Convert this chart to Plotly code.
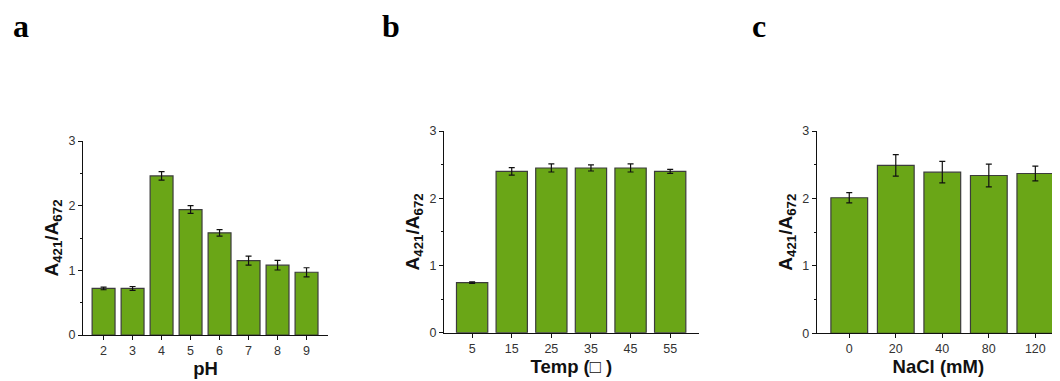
import plotly.graph_objects as go

# Panel a: pH
ph_labels = ["2", "3", "4", "5", "6", "7", "8", "9"]
ph_values = [0.72, 0.72, 2.46, 1.94, 1.58, 1.15, 1.08, 0.97]
ph_errors = [0.02, 0.03, 0.065, 0.06, 0.05, 0.07, 0.075, 0.07]

# Panel b: Temperature
temp_labels = ["5", "15", "25", "35", "45", "55"]
temp_values = [0.745, 2.40, 2.45, 2.45, 2.45, 2.40]
temp_errors = [0.012, 0.055, 0.06, 0.045, 0.06, 0.03]

# Panel c: NaCl
nacl_labels = ["0", "20", "40", "80", "120"]
nacl_values = [2.01, 2.49, 2.39, 2.34, 2.37]
nacl_errors = [0.075, 0.16, 0.16, 0.17, 0.11]

y_ticks = [0, 1, 2, 3]
BAR = "#6aa617"
EDGE = "#3c3c3c"

# page body has an 8px margin; figure is sized to fill the rest of the window
OFF = 8
W = 1060 - OFF
H = 381 - OFF

panels = [
    dict(labels=ph_labels, vals=ph_values, errs=ph_errors, title="pH",
         px=(83, 328), py=(141, 335), xr=(-0.71, 7.74)),
    dict(labels=temp_labels, vals=temp_values, errs=temp_errors, title="Temp (□ )",
         px=(444, 698.7), py=(131, 332.7), xr=(-0.71, 5.72)),
    dict(labels=nacl_labels, vals=nacl_values, errs=nacl_errors, title="NaCl (mM)",
         px=(816.7, 1060), py=(131, 333.3), xr=(-0.70, 4.53)),
]

fig = go.Figure()
layout = dict(
    width=W, height=H,
    margin=dict(l=0, r=0, t=0, b=0, pad=0),
    paper_bgcolor="white", plot_bgcolor="white",
    showlegend=False,
    font=dict(family="Liberation Sans, Arial", color="#222"),
)

for i, p in enumerate(panels):
    n = "" if i == 0 else str(i + 1)
    fig.add_trace(go.Bar(
        x=list(range(len(p["labels"]))), y=p["vals"],
        width=0.79,
        marker=dict(color=BAR, line=dict(color=EDGE, width=1.2)),
        error_y=dict(type="data", array=p["errs"], visible=True,
                     color="#111", thickness=1.2, width=3),
        xaxis="x" + n, yaxis="y" + n,
    ))
    xd = ((p["px"][0] - OFF) / W, min(1.0, (p["px"][1] - OFF) / W))
    yd = (1 - (p["py"][1] - OFF) / H, 1 - (p["py"][0] - OFF) / H)
    layout["xaxis" + n] = dict(
        domain=list(xd), anchor="y" + n, range=list(p["xr"]), automargin=False,
        tickmode="array", tickvals=list(range(len(p["labels"]))), ticktext=p["labels"],
        showline=True, linecolor="#111", linewidth=1.2,
        ticks="outside", ticklen=4, tickwidth=1, tickcolor="#111",
        tickfont=dict(size=12.5, color="#333"), showgrid=False, zeroline=False,
        title=dict(text="<b>" + p["title"] + "</b>", font=dict(size=18.5, color="#111"), standoff=3),
    )
    layout["yaxis" + n] = dict(
        domain=list(yd), anchor="x" + n, range=[0, 3], automargin=False,
        tickmode="array", tickvals=y_ticks,
        showline=True, linecolor="#111", linewidth=1.2,
        ticks="outside", ticklen=4, tickwidth=1, tickcolor="#111",
        minor=dict(ticks="outside", ticklen=2, tickwidth=1, tickcolor="#111", dtick=0.5, tick0=0),
        tickfont=dict(size=12.5, color="#333"), showgrid=False, zeroline=False,
        title=dict(text="<b>A<sub>421</sub>/A<sub>672</sub></b>", font=dict(size=19, color="#111"), standoff=4),
    )

fig.update_layout(**layout)

for lbl, x in [("a", 11), ("b", 380), ("c", 750)]:
    fig.add_annotation(text="<b>" + lbl + "</b>", x=(x - OFF) / W, y=1 - (26 - OFF) / H,
                       xref="paper", yref="paper", xanchor="left", yanchor="middle",
                       showarrow=False,
                       font=dict(family="Liberation Serif, Times New Roman", size=32, color="#000"))

fig.write_html("out.html")
